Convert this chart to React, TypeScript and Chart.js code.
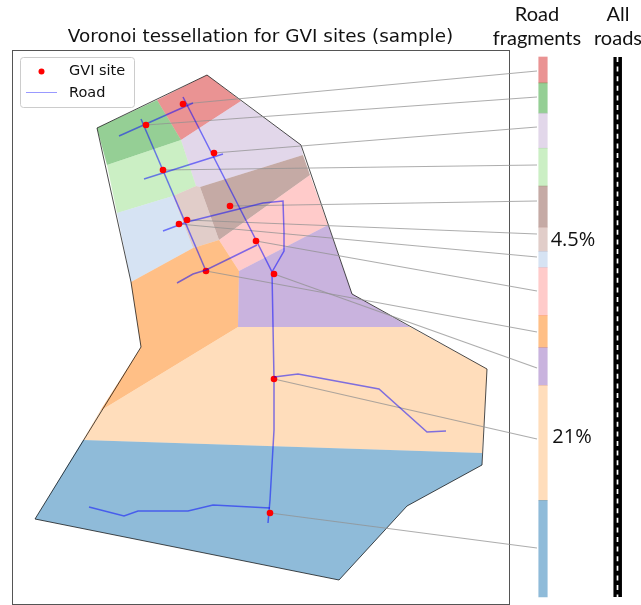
import React, { useEffect, useRef } from "react";
import { Chart, registerables } from "chart.js";

Chart.register(...registerables);

type P = [number, number];

const TITLE = "Voronoi tessellation for GVI sites (sample)";
const BLOCK_COLORS = [
  "rgba(214,39,40,0.5)", "rgba(44,160,44,0.5)", "rgba(197,176,213,0.5)", "rgba(152,223,138,0.5)",
  "rgba(140,86,75,0.5)", "rgba(196,156,148,0.5)", "rgba(174,199,232,0.5)", "rgba(255,152,150,0.5)",
  "rgba(255,127,14,0.5)", "rgba(148,103,189,0.5)", "rgba(255,187,120,0.5)", "rgba(31,119,180,0.5)",
];

const cellRed: P[] = [[207,75],[241,101],[181,140],[157,100]];
const cellGreen: P[] = [[97,128],[157,100],[181,140],[107,165]];
const cellLilac: P[] = [[241,101],[301,145],[303,155],[200,187],[196,186],[181,140]];
const cellLightGreen: P[] = [[107,165],[181,140],[196,186],[173,196],[117,213]];
const cellBrown: P[] = [[303,155],[310,175],[219,240],[200,187]];
const cellTan: P[] = [[173,196],[196,186],[200,187],[219,240],[193,248]];
const cellLightBlue: P[] = [[117,213],[173,196],[193,248],[131,282]];
const cellPink: P[] = [[219,240],[310,175],[328,225],[239,271]];
const cellOrange: P[] = [[131,282],[193,248],[219,240],[239,271],[238,327],[100,411],[141,347]];
const cellPurple: P[] = [[328,225],[352,294],[410,327],[238,327],[239,271]];
const cellPeach: P[] = [[238,327],[410,327],[487,369],[482,453],[83,440],[100,411]];
const cellBlue: P[] = [[83,440],[482,453],[482,465],[407,506],[339,580],[35,519]];
const cells = [cellRed, cellGreen, cellLilac, cellLightGreen, cellBrown, cellTan, cellLightBlue, cellPink, cellOrange, cellPurple, cellPeach, cellBlue];

const outline: P[] = [[207,75],[301,145],[352,294],[487,369],[482,465],[407,506],[339,580],[35,519],[141,347],[131,282],[97,128],[207,75]];

const roadA: P[] = [[183,97],[256,240],[272,272],[274,379],[274,430],[270,500],[268,523]];
const roadB: P[] = [[141,119],[206,271]];
const roadC: P[] = [[119,136],[193,103]];
const roadD: P[] = [[144,179],[223,154]];
const roadE: P[] = [[163,231],[187,222],[263,203],[283,201],[284,232],[284,251],[272,272]];
const roadF: P[] = [[177,283],[193,274],[206,270],[257,245]];
const roadG: P[] = [[274,377],[298,374],[379,389],[427,432],[446,431]];
const roadH: P[] = [[89,507],[124,516],[138,511],[188,511],[213,505],[270,508]];
const roadsBelowSites = [roadA, roadB, roadC, roadD, roadE, roadH];
const roadsAboveSites = [roadF, roadG];

const sites: P[] = [[183,104],[146,125],[214,153],[163,170],[230,206],[187,220],[179,224],[256,241],[206,271],[274,274],[274,379],[270,513]];
const stripEnds: P[] = [[537,71],[537,97],[537,127],[537,165],[537,201],[537,234],[537,257],[537,291],[537,332],[537,368],[537,439],[537,548]];

const fragmentShares = [4.8, 5.6, 6.5, 7.0, 7.6, 4.5, 3.0, 8.9, 5.9, 7.0, 21.3, 17.9];

const toPts = (a: P[]) => a.map(([x, y]) => ({ x, y }));

const framePlugin = {
  id: "frameAndText",
  beforeDatasetsDraw(chart: any) {
    const { ctx } = chart;
    ctx.save();
    ctx.strokeStyle = "#555";
    ctx.lineWidth = 1;
    ctx.strokeRect(12.5, 50.5, 497, 554);
    ctx.restore();
  },
  afterDatasetsDraw(chart: any) {
    const { ctx } = chart;
    ctx.save();
    ctx.fillStyle = "rgba(255,255,255,0.8)";
    ctx.strokeStyle = "#ccc";
    ctx.lineWidth = 1;
    ctx.beginPath();
    ctx.roundRect(20.5, 57.5, 114, 50, 3);
    ctx.fill();
    ctx.stroke();
    ctx.fillStyle = "#ff0000";
    ctx.beginPath();
    ctx.arc(41.5, 71.5, 3, 0, Math.PI * 2);
    ctx.fill();
    ctx.strokeStyle = "rgba(0,0,255,0.4)";
    ctx.beginPath();
    ctx.moveTo(26, 92.5);
    ctx.lineTo(57, 92.5);
    ctx.stroke();
    ctx.fillStyle = "#111";
    ctx.textBaseline = "middle";
    ctx.textAlign = "left";
    ctx.font = '14.5px "DejaVu Sans"';
    ctx.fillText("GVI site", 69, 71);
    ctx.fillText("Road", 69, 93);
    ctx.textAlign = "center";
    ctx.font = '18.4px "DejaVu Sans"';
    ctx.fillText(TITLE, 260.5, 37.5);
    ctx.font = '20px "Lato"';
    ctx.fillText("Road", 537, 15);
    ctx.fillText("fragments", 537, 39);
    ctx.fillText("All", 618, 15);
    ctx.fillText("roads", 618, 39);
    ctx.font = '20px "Open Sans"';
    ctx.fillText("4.5%", 573, 240);
    ctx.fillText("21%", 572, 437);
    ctx.restore();
  },
};

export default function App() {
  const ref = useRef<HTMLCanvasElement | null>(null);
  useEffect(() => {
    const polys = cells.map((c, i) => ({
      type: "scatter",
      data: toPts([...c, c[0]]),
      showLine: true,
      fill: "shape",
      backgroundColor: BLOCK_COLORS[i],
      borderWidth: 0,
      borderColor: "transparent",
      pointRadius: 0,
    }));
    const outlineSet = {
      type: "scatter",
      data: toPts(outline),
      showLine: true,
      borderColor: "rgba(0,0,0,0.7)",
      borderWidth: 1,
      pointRadius: 0,
    };
    const connectors = sites.map((s, i) => ({
      type: "scatter",
      data: toPts([s, stripEnds[i]]),
      showLine: true,
      borderColor: "rgba(145,145,145,0.75)",
      borderWidth: 1.25,
      pointRadius: 0,
    }));
    const roadStyle = (r: P[]) => ({
      type: "scatter",
      data: toPts(r),
      showLine: true,
      borderColor: "rgba(0,0,255,0.5)",
      borderWidth: 1.5,
      pointRadius: 0,
    });
    const siteSet = {
      type: "scatter",
      data: toPts(sites),
      showLine: false,
      backgroundColor: "#ff0000",
      borderWidth: 0,
      pointRadius: 3.3,
    };
    let acc = 0;
    const stripSet = {
      type: "bar",
      yAxisID: "share",
      data: fragmentShares.map((v) => {
        const d = { x: 543, y: [acc, acc + v] };
        acc += v;
        return d;
      }),
      backgroundColor: BLOCK_COLORS,
      barThickness: 8.5,
    };
    const allRoad = {
      type: "scatter",
      yAxisID: "share",
      data: [{ x: 617.7, y: 0 }, { x: 617.7, y: 100 }],
      showLine: true,
      borderColor: "#000",
      borderWidth: 8.5,
      pointRadius: 0,
    };
    const allRoadDash = {
      type: "scatter",
      yAxisID: "share",
      data: [{ x: 617.5, y: 0 }, { x: 617.5, y: 100 }],
      showLine: true,
      borderColor: "#fff",
      borderWidth: 1.7,
      borderDash: [5, 4.6],
      pointRadius: 0,
    };
    const layers: any[] = [
      ...polys,
      outlineSet,
      ...connectors,
      ...roadsBelowSites.map(roadStyle),
      siteSet,
      ...roadsAboveSites.map(roadStyle),
      stripSet,
      allRoad,
      allRoadDash,
    ];
    layers.forEach((d, i) => (d.order = layers.length - i));
    const chart = new Chart(ref.current as HTMLCanvasElement, {
      type: "scatter",
      data: { datasets: layers },
      options: {
        animation: false,
        responsive: false,
        layout: { padding: 0, autoPadding: false },
        plugins: { legend: { display: false }, tooltip: { enabled: false }, title: { display: false } },
        scales: {
          x: { type: "linear", min: 0, max: 641, display: false, offset: false },
          y: { type: "linear", min: 0, max: 605, reverse: true, display: false },
          share: { type: "linear", min: -57 / 5.4, max: (605 - 57) / 5.4, reverse: true, display: false },
        },
      },
      plugins: [framePlugin],
    } as any);
    return () => chart.destroy();
  }, []);
  return (
    <canvas
      ref={ref}
      width={641}
      height={605}
      style={{ position: "absolute", left: 0, top: 0, display: "block", background: "#fff" }}
    />
  );
}
